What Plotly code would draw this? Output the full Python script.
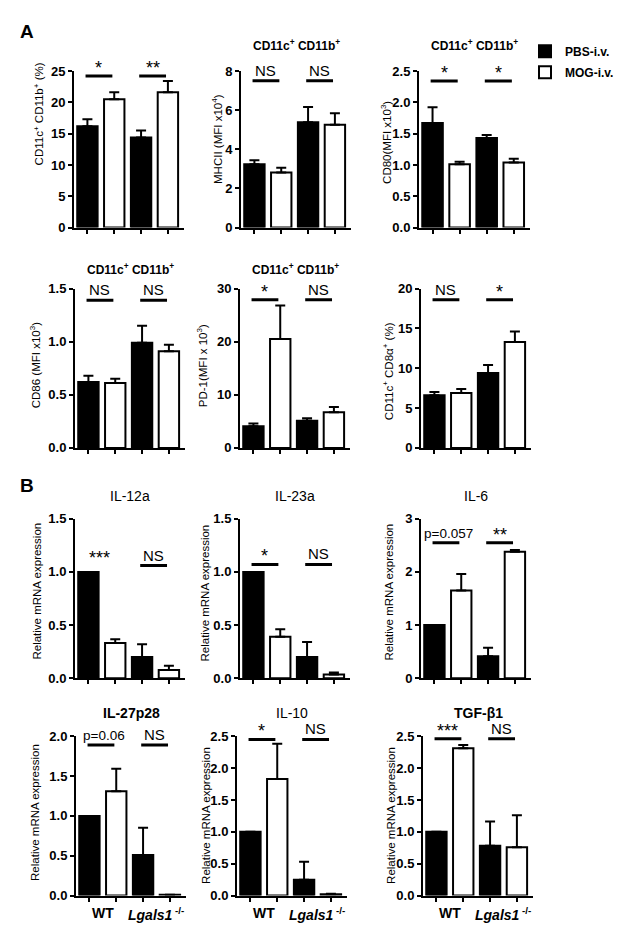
import plotly.graph_objects as go

FONT = "Liberation Sans, Arial, sans-serif"
W, H = 624, 931

# ---------------- data ----------------
series_names = ["PBS-i.v.", "MOG-i.v."]
bar_positions = [0, 1, 2, 3]          # WT-PBS, WT-MOG, KO-PBS, KO-MOG

cd11b_pct_mean = [16.2, 20.5, 14.4, 21.6]
cd11b_pct_err = [1.1, 1.1, 1.1, 1.8]
mhcii_mean = [3.24, 2.81, 5.38, 5.26]
mhcii_err = [0.20, 0.25, 0.78, 0.58]
cd80_mean = [1.67, 1.01, 1.43, 1.04]
cd80_err = [0.25, 0.04, 0.05, 0.06]
cd86_mean = [0.62, 0.61, 0.99, 0.91]
cd86_err = [0.06, 0.04, 0.16, 0.06]
pd1_mean = [4.1, 20.5, 5.1, 6.7]
pd1_err = [0.5, 6.3, 0.5, 1.0]
cd8a_pct_mean = [6.6, 6.9, 9.4, 13.3]
cd8a_pct_err = [0.4, 0.5, 1.0, 1.3]
il12a_mean = [1.0, 0.33, 0.20, 0.077]
il12a_err = [0.0, 0.035, 0.12, 0.04]
il23a_mean = [1.0, 0.39, 0.20, 0.034]
il23a_err = [0.0, 0.07, 0.14, 0.02]
il6_mean = [1.0, 1.65, 0.41, 2.38]
il6_err = [0.0, 0.31, 0.16, 0.03]
il27_mean = [1.0, 1.31, 0.51, 0.01]
il27_err = [0.0, 0.28, 0.34, 0.0]
il10_mean = [1.0, 1.83, 0.25, 0.02]
il10_err = [0.0, 0.55, 0.28, 0.01]
tgfb1_mean = [1.0, 2.31, 0.78, 0.76]
tgfb1_err = [0.0, 0.05, 0.38, 0.50]

panel_titles = ["", "CD11c<sup>+</sup> CD11b<sup>+</sup>", "CD11c<sup>+</sup> CD11b<sup>+</sup>",
                "CD11c<sup>+</sup> CD11b<sup>+</sup>", "CD11c<sup>+</sup> CD11b<sup>+</sup>", "",
                "IL-12a", "IL-23a", "IL-6", "IL-27p28", "IL-10", "TGF-β1"]
y_titles = ["CD11c<sup>+</sup> CD11b<sup>+</sup> (%)", "MHCII (MFI x10<sup>4</sup>)",
            "CD80(MFI x10<sup>3</sup>)", "CD86 (MFI x10<sup>3</sup>)", "PD-1(MFI x 10<sup>3</sup>)",
            "CD11c<sup>+</sup> CD8α<sup>+</sup> (%)"] + ["Relative mRNA expression"] * 6
y_tickvals = [[0, 5, 10, 15, 20, 25], [0, 2, 4, 6, 8], [0, 0.5, 1.0, 1.5, 2.0, 2.5],
              [0, 0.5, 1.0, 1.5], [0, 10, 20, 30], [0, 5, 10, 15, 20],
              [0, 0.5, 1.0, 1.5], [0, 0.5, 1.0, 1.5], [0, 1, 2, 3],
              [0, 0.5, 1.0, 1.5, 2.0], [0, 0.5, 1.0, 1.5, 2.0, 2.5], [0, 0.5, 1.0, 1.5, 2.0, 2.5]]
# significance: (label, draw line, y)
sig_labels = [
    [("*", True, 24.2), ("**", True, 24.2)],
    [("NS", True, 7.5), ("NS", True, 7.5)],
    [("*", True, 2.34), ("*", True, 2.34)],
    [("NS", True, 1.39), ("NS", True, 1.39)],
    [("*", True, 27.9), ("NS", True, 27.9)],
    [("NS", True, 18.6), ("*", True, 18.6)],
    [("***", False, 1.06), ("NS", True, 1.06)],
    [("*", True, 1.07), ("NS", True, 1.07)],
    [("p=0.057", True, 2.55), ("**", True, 2.55)],
    [("p=0.06", True, 1.89), ("NS", True, 1.89)],
    [("*", True, 2.45), ("NS", True, 2.45)],
    [("***", True, 2.46), ("NS", True, 2.46)],
]
group_labels = ["WT", "<i>Lgals1</i><sup> -/-</sup>"]

means = [cd11b_pct_mean, mhcii_mean, cd80_mean, cd86_mean, pd1_mean, cd8a_pct_mean,
         il12a_mean, il23a_mean, il6_mean, il27_mean, il10_mean, tgfb1_mean]
errs = [cd11b_pct_err, mhcii_err, cd80_err, cd86_err, pd1_err, cd8a_pct_err,
        il12a_err, il23a_err, il6_err, il27_err, il10_err, tgfb1_err]

# ---------------- layout geometry (pixels) ----------------
x_px = [(66, 176), (233, 343), (411, 522),
        (67, 177), (232, 342), (413, 523),
        (67, 177), (232, 342), (413, 523),
        (68, 178), (229, 339), (415, 525)]
y_px = [(57, 216)] * 3 + [(278, 440)] * 3 + [(512, 674)] * 3 + [(733, 895)] * 3
title_y_px = [30, 30, 30, 258, 258, 258, 489, 489, 489, 709, 709, 709]
ytitle_x_px = [31, 209, 378, 27, 194, 380, 29, 197, 381, 27, 198, 383]
ytitle_y_px = [100, 126, 130, 356, 357, 362, 586, 588, 587, 811, 814, 814]

fig = go.Figure()
annotations = []
shapes = []

for i in range(12):
    n = i + 1
    xa = "x" if n == 1 else f"x{n}"
    ya = "y" if n == 1 else f"y{n}"
    m, e = means[i], errs[i]
    for s in range(2):
        idx = [s, s + 2]
        fig.add_trace(go.Bar(
            x=[bar_positions[k] for k in idx], y=[m[k] for k in idx],
            name=series_names[s], legendgroup=series_names[s], showlegend=(i == 0),
            marker=dict(color="black" if s == 0 else "white", line=dict(color="black", width=2)),
            width=0.76,
            error_y=dict(type="data", symmetric=False, array=[e[k] for k in idx],
                         arrayminus=[0, 0], color="black", thickness=2, width=5),
            xaxis=xa, yaxis=ya,
        ))
    top = y_tickvals[i][-1]
    x0, x1 = x_px[i]
    yt, yb = y_px[i]
    fig.layout[f"xaxis{'' if n == 1 else n}"] = dict(
        domain=[x0 / W, x1 / W], range=[-0.5, 3.6], anchor=ya,
        showline=True, linecolor="black", linewidth=2, ticks="outside", ticklen=4,
        tickwidth=2, tickcolor="black", tickvals=bar_positions, showticklabels=False,
        showgrid=False, zeroline=False, fixedrange=True)
    fmt = ".1f" if isinstance(y_tickvals[i][1], float) else "d"
    fig.layout[f"yaxis{'' if n == 1 else n}"] = dict(
        domain=[1 - yb / H, 1 - yt / H], range=[0, top], anchor=xa,
        showline=True, linecolor="black", linewidth=2, ticks="outside", ticklen=4,
        tickwidth=2, tickcolor="black", tickvals=y_tickvals[i], tickformat=fmt,
        tickfont=dict(family=FONT, size=13, color="black", weight="bold"),
        showgrid=False, zeroline=False, fixedrange=True)
    # panel title
    if panel_titles[i]:
        bold = i < 6 or i in (9, 11)
        annotations.append(dict(
            text=(f"<b>{panel_titles[i]}</b>" if bold else panel_titles[i]),
            x=(x0 + x1) / 2 / W, y=1 - title_y_px[i] / H, xref="paper", yref="paper",
            xanchor="center", yanchor="middle", showarrow=False,
            font=dict(family=FONT, size=12 if i < 6 else 14, color="black")))
    # y axis title
    annotations.append(dict(
        text=y_titles[i], textangle=-90, x=ytitle_x_px[i] / W, y=1 - ytitle_y_px[i] / H,
        xref="paper", yref="paper", xanchor="center", yanchor="middle", showarrow=False,
        font=dict(family=FONT, size=11.5, color="black")))
    # significance
    for p, (lab, line, yv) in enumerate(sig_labels[i]):
        a, b = 2 * p - 0.07, 2 * p + 0.93
        if line:
            shapes.append(dict(type="line", xref=xa, yref=ya, x0=a, x1=b, y0=yv, y1=yv,
                               line=dict(color="black", width=3)))
        is_star = "*" in lab
        is_p = lab.startswith("p=")
        annotations.append(dict(
            text=lab, x=(a + b) / 2 + (0.1 if is_p else 0), y=yv, xref=xa, yref=ya,
            xanchor="center", yanchor="bottom", yshift=(-4 if is_star else 0), showarrow=False,
            font=dict(family=FONT, size=18 if is_star else (13.5 if is_p else 15),
                      color="black")))
    # group labels on bottom row
    if i >= 9:
        for g, lab in enumerate(group_labels):
            annotations.append(dict(
                text=f"<b>{lab}</b>", x=2 * g + 0.5, y=1 - (yb + 8) / H, xref=xa, yref="paper",
                xanchor="center", yanchor="top", showarrow=False,
                font=dict(family=FONT, size=14, color="black")))

# panel letters
annotations.append(dict(text="<b>A</b>", x=10 / W, y=1 - 17 / H, xref="paper", yref="paper",
                        xanchor="left", yanchor="middle", showarrow=False,
                        font=dict(family=FONT, size=19, color="black")))
annotations.append(dict(text="<b>B</b>", x=10 / W, y=1 - 478 / H, xref="paper", yref="paper",
                        xanchor="left", yanchor="middle", showarrow=False,
                        font=dict(family=FONT, size=19, color="black")))

fig.update_layout(
    width=W, height=H, margin=dict(l=0, r=0, t=0, b=0),
    paper_bgcolor="white", plot_bgcolor="white", barmode="overlay",
    annotations=annotations, shapes=shapes,
    showlegend=True,
    legend=dict(x=517 / W, y=1 - 22 / H, xanchor="left", yanchor="top",
                font=dict(family=FONT, size=12, color="black", weight="bold"),
                bgcolor="rgba(0,0,0,0)", tracegroupgap=2),
    font=dict(family=FONT, color="black"),
)

fig.write_html("out.html")
